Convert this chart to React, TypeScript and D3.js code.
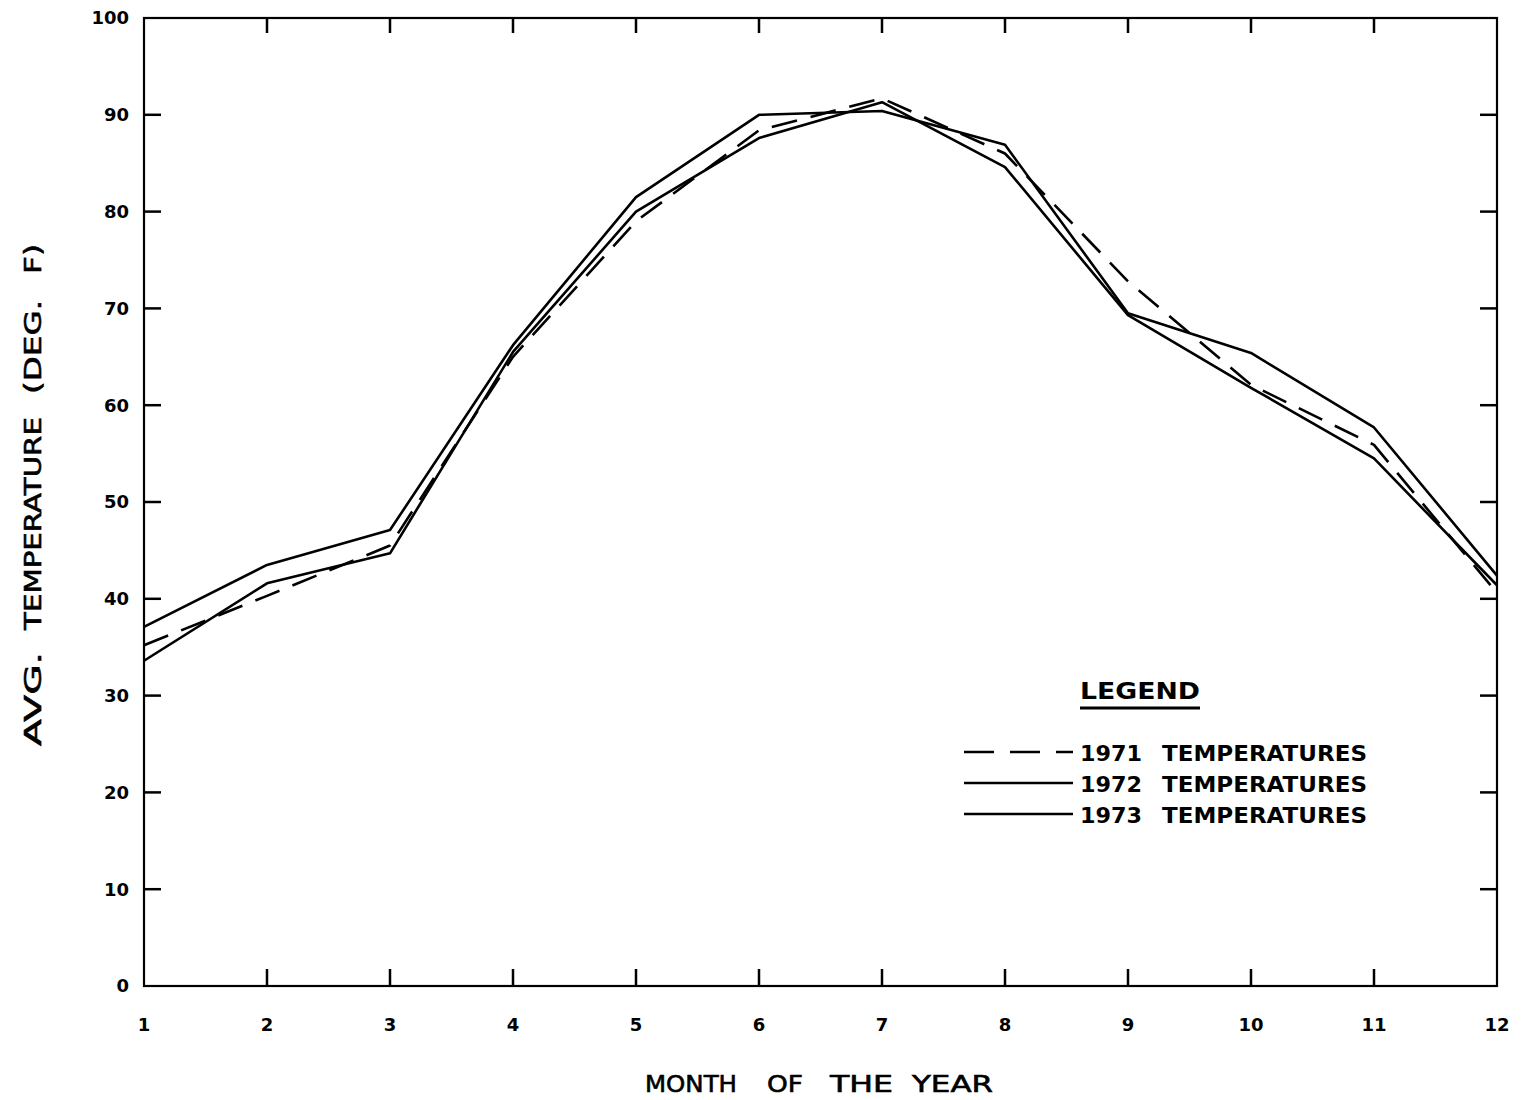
import React from 'react';
import * as d3 from 'd3';

const months: number[] = [1, 2, 3, 4, 5, 6, 7, 8, 9, 10, 11, 12];
const yTicks: number[] = [0, 10, 20, 30, 40, 50, 60, 70, 80, 90, 100];

const temps1971: number[] = [35.2, 40.3, 45.5, 65.0, 79.0, 88.4, 91.7, 86.0, 72.8, 62.1, 55.9, 40.6];
const temps1972: number[] = [37.1, 43.5, 47.1, 66.2, 81.5, 90.0, 90.4, 86.9, 69.5, 65.4, 57.7, 42.4];
const temps1973: number[] = [33.6, 41.6, 44.7, 65.5, 80.0, 87.6, 91.3, 84.6, 69.3, 61.8, 54.5, 41.4];

const seriesYears: string[] = ['1971', '1972', '1973'];
const seriesDash: string[] = ['26 14', 'none', 'none'];

const xTitleWords: string[] = ['MONTH', 'OF', 'THE', 'YEAR'];
const yTitleWords: string[] = ['AVG.', 'TEMPERATURE', '(DEG.', 'F)'];

const width = 1522;
const height = 1100;
const left = 144;
const right = 1497;
const top = 18;
const bottom = 986;

// word placement for the plotter-style spaced titles: [start, length]
const xTitlePos: [number, number][] = [[645, 92], [767, 36], [830, 63], [912, 81]];
const yTitlePos: [number, number][] = [[746, 94], [630, 213], [394, 94], [274, 30]];

function App() {
    const x = d3.scaleLinear().domain([1, 12]).range([left, right]);
    const y = d3.scaleLinear().domain([0, 100]).range([bottom, top]);
    const line = d3.line<number>()
        .x((_, i) => x(months[i]))
        .y(d => y(d));

    const series = [temps1971, temps1972, temps1973];
    const font = "'DejaVu Sans', sans-serif";

    return (
        <svg width={width} height={height} style={{ position: 'absolute', left: 0, top: 0 }}>
            <rect width={width} height={height} fill="#fff" />
            <rect x={left} y={top} width={right - left} height={bottom - top}
                fill="none" stroke="#000" strokeWidth={2.2} />

            {yTicks.slice(1, -1).map(t => (
                <g key={'yt' + t}>
                    <line x1={left} x2={left + 17} y1={y(t)} y2={y(t)} stroke="#000" strokeWidth={2.5} />
                    <line x1={right - 17} x2={right} y1={y(t)} y2={y(t)} stroke="#000" strokeWidth={2.5} />
                </g>
            ))}
            {months.slice(1, -1).map(m => (
                <g key={'xt' + m}>
                    <line x1={x(m)} x2={x(m)} y1={bottom} y2={bottom - 17} stroke="#000" strokeWidth={2.5} />
                    <line x1={x(m)} x2={x(m)} y1={top} y2={top + 15} stroke="#000" strokeWidth={2.5} />
                </g>
            ))}

            {yTicks.map(t => (
                <text key={'yl' + t} x={129} y={y(t)} dy="0.36em" textAnchor="end"
                    fontFamily={font} fontWeight="bold" fontSize={18}>{t}</text>
            ))}
            {months.map(m => (
                <text key={'xl' + m} x={x(m)} y={1031} textAnchor="middle"
                    fontFamily={font} fontWeight="bold" fontSize={18}>{m}</text>
            ))}

            {xTitleWords.map((w, i) => (
                <text key={'xw' + i} x={xTitlePos[i][0]} y={1092} fontFamily={font} fontSize={23}
                    stroke="#000" strokeWidth={0.6}
                    textLength={xTitlePos[i][1]} lengthAdjust="spacingAndGlyphs">{w}</text>
            ))}
            <g transform="translate(41,0) rotate(-90)">
                {yTitleWords.map((w, i) => (
                    <text key={'yw' + i} x={-yTitlePos[i][0]} y={0} fontFamily={font} fontSize={23}
                        stroke="#000" strokeWidth={0.6}
                        textLength={yTitlePos[i][1]} lengthAdjust="spacingAndGlyphs">{w}</text>
                ))}
            </g>

            {series.map((s, i) => (
                <path key={'s' + i} d={line(s) || ''} fill="none" stroke="#000"
                    strokeWidth={2.6} strokeDasharray={seriesDash[i]} strokeLinejoin="round" />
            ))}

            <text x={1080} y={699} fontFamily={font} fontSize={23} fontWeight="bold"
                textLength={120} lengthAdjust="spacingAndGlyphs">LEGEND</text>
            <line x1={1080} x2={1200} y1={708} y2={708} stroke="#000" strokeWidth={3} />
            {seriesYears.map((yr, i) => (
                <g key={'lg' + i}>
                    <line x1={964} x2={1073} y1={752 + i * 31} y2={752 + i * 31} stroke="#000"
                        strokeWidth={2.6} strokeDasharray={i === 0 ? '30 16' : 'none'} />
                    <text x={1080} y={761 + i * 31} fontFamily={font} fontSize={22} fontWeight="bold"
                        textLength={62} lengthAdjust="spacingAndGlyphs">{yr}</text>
                    <text x={1162} y={761 + i * 31} fontFamily={font} fontSize={22} fontWeight="bold"
                        textLength={205} lengthAdjust="spacingAndGlyphs">TEMPERATURES</text>
                </g>
            ))}
        </svg>
    );
}

export default App;
